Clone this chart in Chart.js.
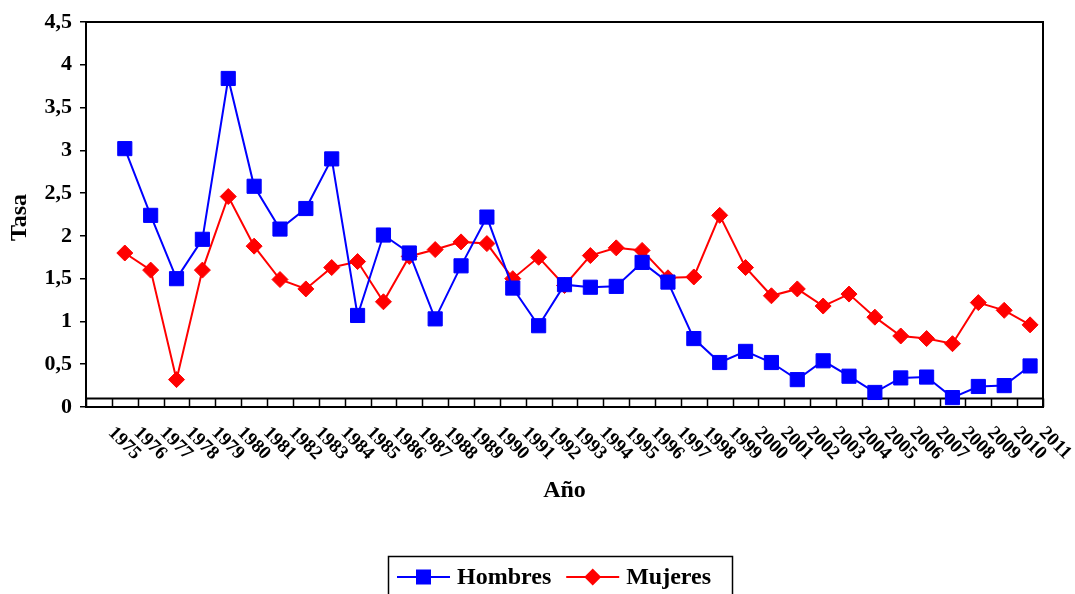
<!DOCTYPE html>
<html>
<head>
<meta charset="utf-8">
<script src="https://cdn.jsdelivr.net/npm/chart.js@4"></script>
<style>
  html, body { margin: 0; padding: 0; background: #fff; }
  canvas { display: block; }
</style>
</head>
<body>
<canvas id="chart" width="1075" height="594"></canvas>
<script>
const years = ["1975", "1976", "1977", "1978", "1979", "1980", "1981", "1982", "1983", "1984",
  "1985", "1986", "1987", "1988", "1989", "1990", "1991", "1992", "1993", "1994",
  "1995", "1996", "1997", "1998", "1999", "2000", "2001", "2002", "2003", "2004",
  "2005", "2006", "2007", "2008", "2009", "2010", "2011"];

// first category is empty in the original sheet
const hombres = [null, 3.02, 2.24, 1.50, 1.96, 3.84, 2.58, 2.08, 2.32, 2.90, 1.07,
  2.01, 1.80, 1.03, 1.65, 2.22, 1.39, 0.95, 1.43, 1.40, 1.41,
  1.69, 1.46, 0.80, 0.52, 0.65, 0.52, 0.32, 0.54, 0.36, 0.17,
  0.34, 0.35, 0.11, 0.24, 0.25, 0.48];

const mujeres = [null, 1.80, 1.60, 0.32, 1.60, 2.46, 1.88, 1.49, 1.38, 1.63, 1.70,
  1.23, 1.76, 1.84, 1.93, 1.91, 1.50, 1.75, 1.42, 1.77, 1.86,
  1.83, 1.51, 1.52, 2.24, 1.63, 1.30, 1.38, 1.18, 1.32, 1.05,
  0.83, 0.80, 0.74, 1.22, 1.13, 0.96];

const yTicks = [0, 0.5, 1, 1.5, 2, 2.5, 3, 3.5, 4, 4.5];
const axisCross = 0.1;

const FONT = '"Liberation Serif", "Times New Roman", serif';

const decor = {
  id: "decor",
  beforeDatasetsDraw(chart) {
    const { ctx, chartArea: a, scales: { x, y } } = chart;
    ctx.save();
    ctx.strokeStyle = "#000";
    ctx.lineWidth = 2;
    ctx.strokeRect(a.left, a.top, a.right - a.left, a.bottom - a.top);
    // category axis sits a bit above zero
    const ay = y.getPixelForValue(axisCross);
    ctx.beginPath();
    ctx.moveTo(a.left, ay);
    ctx.lineTo(a.right, ay);
    ctx.stroke();
    const step = (x.right - x.left) / years.length;
    ctx.lineWidth = 1.5;
    ctx.beginPath();
    for (let i = 0; i <= years.length; i++) {
      const px = Math.round(x.left + i * step) + 0.5;
      ctx.moveTo(px, ay);
      ctx.lineTo(px, a.bottom);
    }
    ctx.stroke();
    ctx.restore();
  },
  afterDraw(chart) {
    const { ctx, chartArea: a, scales: { x } } = chart;
    ctx.save();
    ctx.fillStyle = "#000";
    // rotated year labels
    ctx.font = "bold 19px " + FONT;
    ctx.textAlign = "left";
    ctx.textBaseline = "middle";
    years.forEach((lab, i) => {
      const cx = x.getPixelForValue(i);
      ctx.save();
      ctx.translate(cx + 12, a.bottom + 23);
      ctx.rotate(Math.PI / 4);
      ctx.fillText(lab, 0, 0);
      ctx.restore();
    });
    // axis titles
    ctx.font = "bold 24px " + FONT;
    ctx.textAlign = "center";
    ctx.fillText("Año", (a.left + a.right) / 2, 491);
    ctx.save();
    ctx.translate(20, (a.top + a.bottom) / 2 + 3);
    ctx.rotate(-Math.PI / 2);
    ctx.fillText("Tasa", 0, 0);
    ctx.restore();

    // legend box
    ctx.lineWidth = 1.5;
    ctx.strokeStyle = "#000";
    ctx.strokeRect(388.5, 556.5, 344, 50);
    ctx.font = "bold 24px " + FONT;
    ctx.textAlign = "left";
    let lx = 397;
    const ly = 577;
    chart.data.datasets.forEach(ds => {
      ctx.strokeStyle = ds.borderColor;
      ctx.lineWidth = 2;
      ctx.beginPath();
      ctx.moveTo(lx, ly);
      ctx.lineTo(lx + 53, ly);
      ctx.stroke();
      ctx.fillStyle = ds.backgroundColor;
      const mx = lx + 26.5;
      if (ds.pointStyle === "rect") {
        ctx.fillRect(mx - 7.5, ly - 7.5, 15, 15);
      } else {
        ctx.beginPath();
        ctx.moveTo(mx, ly - 8.5);
        ctx.lineTo(mx + 8.5, ly);
        ctx.lineTo(mx, ly + 8.5);
        ctx.lineTo(mx - 8.5, ly);
        ctx.closePath();
        ctx.fill();
      }
      ctx.fillStyle = "#000";
      ctx.fillText(ds.label, lx + 60, ly + 1);
      lx += 60 + ctx.measureText(ds.label).width + 15;
    });
    ctx.restore();
  }
};

new Chart(document.getElementById("chart"), {
  type: "line",
  data: {
    labels: years,
    datasets: [
      {
        label: "Hombres",
        data: hombres,
        borderColor: "#0000FF",
        backgroundColor: "#0000FF",
        borderWidth: 2,
        pointStyle: "rect",
        pointRadius: 10,
        pointBorderWidth: 1,
        tension: 0,
        clip: false
      },
      {
        label: "Mujeres",
        data: mujeres,
        borderColor: "#FF0000",
        backgroundColor: "#FF0000",
        borderWidth: 2,
        pointStyle: "rectRot",
        pointRadius: 8,
        pointBorderWidth: 1,
        tension: 0,
        clip: false
      }
    ]
  },
  options: {
    responsive: false,
    animation: false,
    devicePixelRatio: 1,
    layout: { padding: { top: 22, right: 32, left: 0, bottom: 0 } },
    plugins: {
      legend: { display: false },
      tooltip: { enabled: false }
    },
    scales: {
      x: {
        offset: true,
        grid: { display: false },
        border: { display: false },
        ticks: { display: false },
        afterFit(scale) { scale.height = 187; }
      },
      y: {
        min: 0,
        max: 4.5,
        afterBuildTicks(scale) { scale.ticks = yTicks.map(v => ({ value: v })); },
        ticks: {
          color: "#000",
          padding: 8,
          font: { family: FONT, size: 22, weight: "bold" },
          callback: v => String(v).replace(".", ",")
        },
        grid: { drawOnChartArea: false, color: "#000", lineWidth: 1.5, tickLength: 6 },
        border: { display: true, color: "#000", width: 2 },
        afterFit(scale) { scale.width = 86; }
      }
    }
  },
  plugins: [decor]
});
</script>
</body>
</html>
